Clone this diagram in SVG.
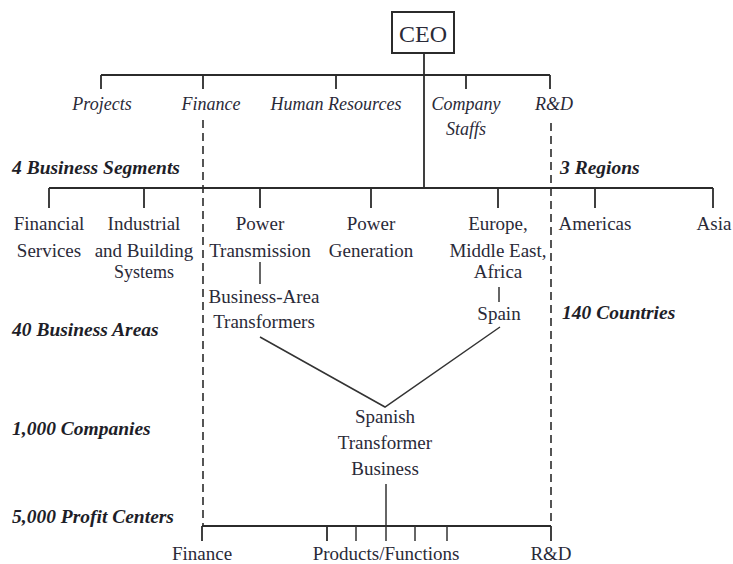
<svg xmlns="http://www.w3.org/2000/svg" width="733" height="564" viewBox="0 0 733 564">
  <style>
    .ln { stroke: #2b2b2b; stroke-width: 1.8; fill: none; }
    .thin { stroke: #333; stroke-width: 1.5; fill: none; }
    .dash { stroke: #2b2b2b; stroke-width: 1.6; fill: none; stroke-dasharray: 8 5; }
    text { font-family: "Liberation Serif", "Times New Roman", serif; fill: #2a2a38; }
    .lbl { font-size: 19px; text-anchor: middle; }
    .it { font-size: 18px; font-style: italic; text-anchor: middle; }
    .hd { font-size: 19.5px; font-style: italic; font-weight: bold; fill: #1e1e28; }
  </style>
  <rect width="733" height="564" fill="#ffffff"/>

  <!-- connectors -->
  <g id="connectors">
    <!-- CEO trunk and staff bar -->
    <line class="ln" x1="424" y1="53" x2="424" y2="188"/>
    <line class="ln" x1="101" y1="75" x2="550" y2="75"/>
    <line class="ln" x1="101" y1="75" x2="101" y2="89"/>
    <line class="ln" x1="203" y1="75" x2="203" y2="89"/>
    <line class="ln" x1="336" y1="75" x2="336" y2="89"/>
    <line class="ln" x1="466" y1="75" x2="466" y2="89"/>
    <line class="ln" x1="550" y1="75" x2="550" y2="89"/>
    <!-- segment / region bar -->
    <line class="ln" x1="49" y1="188" x2="713" y2="188"/>
    <line class="ln" x1="49" y1="188" x2="49" y2="208"/>
    <line class="ln" x1="144" y1="188" x2="144" y2="208"/>
    <line class="ln" x1="260" y1="188" x2="260" y2="208"/>
    <line class="ln" x1="371" y1="188" x2="371" y2="208"/>
    <line class="ln" x1="498" y1="188" x2="498" y2="208"/>
    <line class="ln" x1="595" y1="188" x2="595" y2="208" stroke="#777"/>
    <line class="ln" x1="713" y1="188" x2="713" y2="208"/>
    <!-- dashed staff links -->
    <line class="dash" x1="203" y1="120" x2="203" y2="526"/>
    <line class="dash" x1="551" y1="123" x2="551" y2="526"/>
    <!-- business area and country links -->
    <line class="thin" x1="260" y1="262" x2="260" y2="284"/>
    <line class="thin" x1="499" y1="287" x2="499" y2="302"/>
    <polyline class="thin" points="260,337 385,407 500,327"/>
    <!-- profit center bar -->
    <line class="thin" x1="386" y1="484" x2="386" y2="526"/>
    <line class="ln" x1="202" y1="526" x2="551" y2="526"/>
    <line class="ln" x1="202" y1="526" x2="202" y2="541"/>
    <line class="ln" x1="327" y1="526" x2="327" y2="541"/>
    <line class="thin" x1="356" y1="526" x2="356" y2="541"/>
    <line class="thin" x1="386" y1="526" x2="386" y2="541"/>
    <line class="thin" x1="415" y1="526" x2="415" y2="541"/>
    <line class="thin" x1="447" y1="526" x2="447" y2="541"/>
    <line class="ln" x1="551" y1="526" x2="551" y2="541"/>
  </g>

  <!-- top -->
  <g id="ceo">
    <rect x="392" y="12" width="62" height="41" fill="#fff" stroke="#2b2b2b" stroke-width="2"/>
    <text x="423" y="42" class="lbl" style="font-size:24px">CEO</text>
  </g>
  <g id="projects"><text x="102" y="110" class="it">Projects</text></g>
  <g id="finance"><text x="211" y="110" class="it">Finance</text></g>
  <g id="human-resources"><text x="336" y="110" class="it">Human Resources</text></g>
  <g id="company-staffs">
    <text x="466" y="110" class="it">Company</text>
    <text x="466" y="135" class="it">Staffs</text>
  </g>
  <g id="rnd"><text x="554" y="110" class="it">R&amp;D</text></g>

  <!-- level headings -->
  <g id="levels">
    <text x="12" y="174" class="hd">4 Business Segments</text>
    <text x="560" y="174" class="hd">3 Regions</text>
    <text x="12" y="336" class="hd">40 Business Areas</text>
    <text x="562" y="319" class="hd">140 Countries</text>
    <text x="12" y="435" class="hd">1,000 Companies</text>
    <text x="12" y="523" class="hd">5,000 Profit Centers</text>
  </g>

  <!-- business segments -->
  <g id="financial-services">
    <text x="49" y="230" class="lbl">Financial</text>
    <text x="49" y="257" class="lbl">Services</text>
  </g>
  <g id="industrial-building">
    <text x="144" y="230" class="lbl">Industrial</text>
    <text x="144" y="257" class="lbl">and Building</text>
    <text x="144" y="278" class="lbl" style="font-size:18px">Systems</text>
  </g>
  <g id="power-transmission">
    <text x="260" y="230" class="lbl">Power</text>
    <text x="260" y="257" class="lbl">Transmission</text>
  </g>
  <g id="power-generation">
    <text x="371" y="230" class="lbl">Power</text>
    <text x="371" y="257" class="lbl">Generation</text>
  </g>

  <!-- regions -->
  <g id="emea">
    <text x="498" y="230" class="lbl">Europe,</text>
    <text x="498" y="257" class="lbl">Middle East,</text>
    <text x="498" y="278" class="lbl">Africa</text>
  </g>
  <g id="americas"><text x="595" y="230" class="lbl">Americas</text></g>
  <g id="asia"><text x="714" y="230" class="lbl">Asia</text></g>

  <!-- business area, country, company -->
  <g id="ba-transformers">
    <text x="264" y="303" class="lbl">Business-Area</text>
    <text x="264" y="328" class="lbl">Transformers</text>
  </g>
  <g id="spain"><text x="499" y="320" class="lbl">Spain</text></g>
  <g id="spanish-transformer">
    <text x="385" y="423" class="lbl">Spanish</text>
    <text x="385" y="449" class="lbl">Transformer</text>
    <text x="385" y="475" class="lbl">Business</text>
  </g>

  <!-- profit center functions -->
  <g id="pc-finance"><text x="202" y="560" class="lbl">Finance</text></g>
  <g id="pc-products"><text x="386" y="560" class="lbl">Products/Functions</text></g>
  <g id="pc-rnd"><text x="551" y="560" class="lbl">R&amp;D</text></g>
</svg>
